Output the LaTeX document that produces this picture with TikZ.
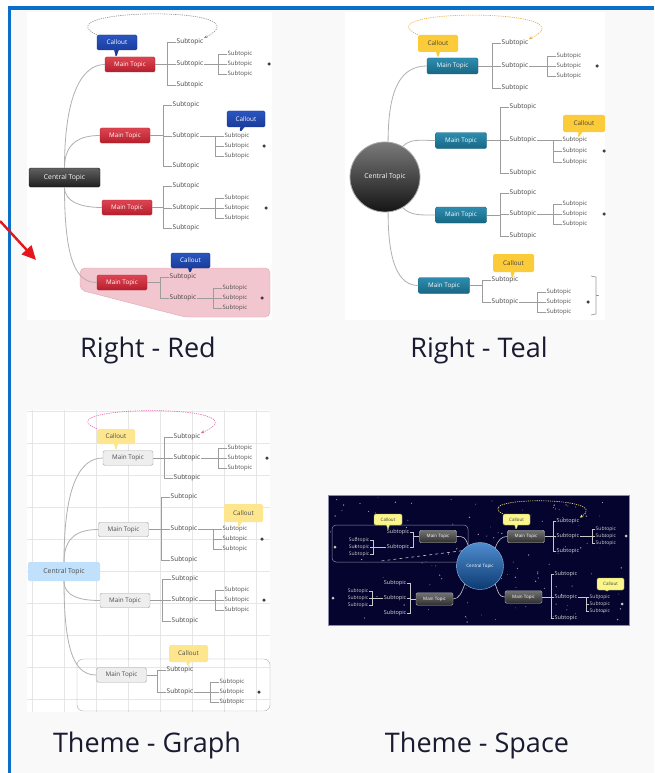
\documentclass[tikz,border=0pt]{standalone}
\usepackage{fontspec}
\setmainfont{Open Sans}
\usetikzlibrary{calc,shapes.callouts,arrows.meta}

\definecolor{frameblue}{HTML}{0A6FC8}
\definecolor{panelgray}{HTML}{F9F9F9}
\definecolor{captioncol}{HTML}{1A1A30}
\definecolor{linegray}{HTML}{9C9C9C}
\definecolor{redtop}{HTML}{DE4552}
\definecolor{redbot}{HTML}{B51F2B}
\definecolor{bluetop}{HTML}{2A55C0}
\definecolor{bluebot}{HTML}{15348F}
\definecolor{pinkfill}{HTML}{F2C6CE}
\definecolor{pinkline}{HTML}{E3A3B2}
\definecolor{tealtop}{HTML}{2E8DB0}
\definecolor{tealbot}{HTML}{176783}
\definecolor{goldfill}{HTML}{FCCB3A}
\definecolor{orangerel}{HTML}{F4A62A}
\definecolor{gridline}{HTML}{E6E6E6}
\definecolor{graybox}{HTML}{EEEEEE}
\definecolor{grayedge}{HTML}{A8A8A8}
\definecolor{paleyellow}{HTML}{FDE68E}
\definecolor{paleblue}{HTML}{C0E0FB}
\definecolor{pinkrel}{HTML}{E860A8}
\definecolor{spacebg}{HTML}{04042E}
\definecolor{spaceedge}{HTML}{8C8CAA}
\definecolor{spaceline}{HTML}{C8C8C8}
\definecolor{spaceyellow}{HTML}{FAF68C}
\definecolor{globetop}{HTML}{4F8DCF}
\definecolor{globebot}{HTML}{0C3A72}
\definecolor{arrowred}{HTML}{E4151B}

\tikzset{
  topicbox/.style={rectangle, rounded corners=1.5pt, inner sep=0pt, minimum width=50pt, minimum height=15pt, font=\fontsize{6.3}{7}\selectfont},
  subtopic/.style={inner sep=0.5pt, font=\fontsize{6.5}{7}\selectfont, text=black!75},
  detail/.style={inner sep=0.5pt, font=\fontsize{6}{6}\selectfont, text=black!70},
  branchline/.style={draw=linegray, line width=0.5pt},
  trunk/.style={draw=linegray!80, line width=0.8pt},
  plus/.style={circle, fill=black!75, inner sep=0pt, minimum size=3.5pt},
  notebox/.style={rectangle callout, rounded corners=1.5pt, inner sep=0pt, minimum width=40pt, minimum height=15pt, callout pointer width=4pt, font=\fontsize{6.3}{7}\selectfont},
  relation/.style={dash pattern=on 1.2pt off 1pt, line width=0.6pt, -{Stealth[length=3.5pt,width=3pt]}},
  caption/.style={anchor=base, text=captioncol, font=\fontsize{27}{32}\selectfont},
}

% one main topic with its subtopics; #1 = side the subtopics grow to
\def\dlist{-10,0,10}
\def\tick{9}
\newcommand{\branch}[7][east]{%
  \def\brside{#1}\def\tmpeast{east}%
  \ifx\brside\tmpeast\def\brback{west}\edef\brgap{\tick}\else\def\brback{east}\edef\brgap{-\tick}\fi
  \node[maintopic] (#2) at (#3) {Main Topic};
  \coordinate (#2b) at (#4,0);
  \draw[branchline] (#2.\brside) -- (#2.\brside -| #2b);
  \foreach \sy [count=\k] in {#5} {
    \node[subtopic, anchor=\brback] (#2s\k) at ({#4+\brgap},\sy) {Subtopic};
    \draw[branchline] (#2.\brside -| #2b) -- (#2b |- #2s\k.\brback) -- (#2s\k.\brback);
  }
  \coordinate (#2c) at (#6,0);
  \draw[branchline] (#2s2.\brside) -- (#2s2.\brside -| #2c);
  \foreach \dy [count=\k] in \dlist {
    \node[detail, anchor=\brback] (#2d\k) at ($(#2s2.\brside -| #2c)+(\brgap,\dy)$) {Subtopic};
    \draw[branchline] (#2s2.\brside -| #2c) -- (#2c |- #2d\k.\brback) -- (#2d\k.\brback);
  }
  \coordinate (#2q) at (#7,0);
  \node[plus] (#2p) at (#2q |- #2d2.\brback) {};
}

\begin{document}
\begin{tikzpicture}[x=1pt, y=-1pt]
    \useasboundingbox (0,0) rectangle (654,773);
    \fill[white] (0,0) rectangle (654,773);
    \fill[panelgray] (10,8) rectangle (654,773);
    \draw[frameblue, line width=3.5pt] (9.5,773) -- (9.5,8) -- (654,8);

    % Right - Red
    \begin{scope}[maintopic/.style={topicbox, top color=redtop, bottom color=redbot, draw=redbot, text=white},
                  note/.style={notebox, top color=bluetop, bottom color=bluebot, draw=bluebot, text=white}]
    \fill[white] (27,12) rectangle (272,320);
    \filldraw[fill=pinkfill, draw=pinkline, rounded corners=5pt] (80,268) -- (270,268) -- (270,317) -- (185,317) -- (80,290) -- cycle;
    \node[topicbox, minimum width=71pt, minimum height=19pt, top color=black!62, bottom color=black!88, draw=black!90, text=white, font=\fontsize{6.8}{7}\selectfont] (c1) at (64.5,177.5) {Central Topic};
    \branch{a1}{130,64.5}{167}{42,64,85}{218}{269}
    \def\dlist{0,10,20}
    \branch{a2}{125,135.5}{163}{105,136,166}{215}{264}
    \def\dlist{-10,0,10}
    \branch{a3}{127,207.5}{163}{186,208,228}{215}{266}
    \branch{a4}{122,282.5}{160}{277,298}{213}{262}
    \node[note, callout absolute pointer={(116,57)}] (co1) at (117,42.5) {Callout};
    \node[note, minimum width=38pt, minimum height=16pt, callout absolute pointer={(240,132)}] (co2) at (246,119) {Callout};
    \node[note, minimum width=39pt, callout absolute pointer={(190,273)}] (co3) at (190.5,260.5) {Callout};
    \draw[trunk] (c1.north) .. controls +(0,-75) and +(-22,0) .. (a1.west);
    \draw[trunk] (c1.north) .. controls +(0,-25) and +(-20,0) .. (a2.west);
    \draw[trunk] (c1.south) .. controls +(0,15) and +(-20,0) .. (a3.west);
    \draw[trunk] (c1.south) .. controls +(0,75) and +(-20,0) .. (a4.west);
    \draw[relation, draw=black!45] (co1.north west) .. controls (40,8) and (270,5) .. (a1s1.north east);
    \node[caption] (t1) at (148,357) {Right - Red};
    \end{scope}

    % Right - Teal
    \begin{scope}[maintopic/.style={topicbox, minimum width=51pt, minimum height=16pt, top color=tealtop, bottom color=tealbot, draw=tealbot, text=white},
                  note/.style={notebox, fill=goldfill, text=black!75}]
    \fill[white] (345,12) rectangle (605,320);
    \node[circle, minimum size=70pt, inner sep=0pt, draw=black!35, line width=0.8pt, top color=black!52, bottom color=black!92, text=white, font=\fontsize{6.8}{7}\selectfont] (c2) at (385,177) {Central Topic};
    \branch{b1}{452.5,66}{492}{43,66,88}{547}{597}
    \def\dlist{0,11,22}
    \branch{b2}{461,140.5}{500}{107,140,173}{553}{604}
    \def\dlist{-10,0,10}
    \branch{b3}{461,215}{500}{193,214,236}{553}{604}
    \branch{b4}{444,285.5}{482}{280,302}{537}{588}
    \node[note, minimum height=17pt, callout absolute pointer={(438,58)}] (co5) at (438,43.5) {Callout};
    \node[note, minimum width=42pt, minimum height=17pt, callout absolute pointer={(578,138)}] (co6) at (584,123.5) {Callout};
    \node[note, minimum width=41pt, minimum height=18pt, callout absolute pointer={(512,279)}] (co7) at (513.5,263) {Callout};
    \draw[trunk] (c2.85) .. controls +(0,-55) and +(-25,0) .. (b1.west);
    \draw[trunk] (c2.60) .. controls +(8,-8) and +(-15,0) .. (b2.west);
    \draw[trunk] (c2.-60) .. controls +(8,8) and +(-15,0) .. (b3.west);
    \draw[trunk] (c2.-85) .. controls +(0,50) and +(-20,0) .. (b4.west);
    \draw[relation, draw=orangerel] (co5.north west) .. controls (360,8) and (595,8) .. (b1s1.north east);
    \draw[draw=black!40, line width=0.6pt] (591,276) -- (596,277) -- (596,314) -- (591,315);
    \draw[draw=black!40, line width=0.6pt] (596,295.5) -- (599,295.5);
    \node[caption] (t2) at (479,357) {Right - Teal};
    \end{scope}

    % Theme - Graph
    \begin{scope}[maintopic/.style={topicbox, minimum height=14.5pt, fill=graybox, draw=grayedge, text=black!70},
                  note/.style={notebox, fill=paleyellow, text=black!70}]
    \fill[white] (27,410) rectangle (270,712);
    \foreach \gx in {32,64,...,256}
        \draw[gridline] (\gx,410) -- (\gx,712);
    \foreach \gy in {411,443,...,699}
        \draw[gridline] (27,\gy) -- (270,\gy);
    \draw[grayedge, rounded corners=6pt] (77,659) rectangle (270,711);
    \node[topicbox, minimum width=72pt, minimum height=19pt, fill=paleblue, text=black!70, font=\fontsize{6.8}{7}\selectfont] (c3) at (64,571.5) {Central Topic};
    \branch{g1}{128,458}{164}{437,458,478}{218}{267}
    \def\dlist{0,10,20}
    \branch{g2}{123.5,529.5}{161}{497,529,560}{213}{262}
    \def\dlist{-10,0,10}
    \branch{g3}{125,600.5}{162}{579,600,621}{215}{264}
    \branch{g4}{121.5,675}{157}{670,692}{210}{259}
    \node[note, minimum width=38pt, callout absolute pointer={(116,451)}] (co8) at (116,436.5) {Callout};
    \node[note, minimum width=39pt, minimum height=18pt, callout absolute pointer={(238,528)}] (co9) at (243.5,513) {Callout};
    \node[note, minimum width=39pt, minimum height=17pt, callout absolute pointer={(188,667)}] (co10) at (188.5,653.5) {Callout};
    \draw[trunk] (c3.north) .. controls +(0,-78) and +(-22,0) .. (g1.west);
    \draw[trunk] (c3.north) .. controls +(0,-25) and +(-20,0) .. (g2.west);
    \draw[trunk] (c3.south) .. controls +(0,15) and +(-20,0) .. (g3.west);
    \draw[trunk] (c3.south) .. controls +(0,75) and +(-20,0) .. (g4.west);
    \draw[relation, draw=pinkrel] (co8.north west) .. controls (40,405) and (270,403) .. (g1s1.north east);
    \node[caption] (t3) at (147,752) {Theme - Graph};
    \end{scope}

    % Theme - Space
    \begin{scope}[maintopic/.style={topicbox, minimum width=37pt, minimum height=12.5pt, top color=black!55, bottom color=black!82, draw=black!30, text=white, font=\fontsize{4.5}{5}\selectfont},
                  note/.style={notebox, minimum width=28pt, minimum height=11pt, callout pointer width=3pt, fill=spaceyellow, draw=spaceyellow!70!black, text=black!75, font=\fontsize{4.5}{5}\selectfont},
                  subtopic/.style={inner sep=0.5pt, font=\fontsize{5.5}{6}\selectfont, text=white!85!black},
                  detail/.style={inner sep=0.5pt, font=\fontsize{5}{5}\selectfont, text=white!80!black},
                  branchline/.style={draw=spaceline, line width=0.6pt},
                  plus/.style={circle, fill=white!80!black, inner sep=0pt, minimum size=3pt}]
    \filldraw[fill=spacebg, draw=spaceedge, line width=0.6pt] (328,495) rectangle (629,625);
    \pgfmathsetseed{3}
    \foreach \i in {1,...,110} {
        \pgfmathsetmacro{\sx}{330+297*rnd}
        \pgfmathsetmacro{\sy}{497+126*rnd}
        \pgfmathsetmacro{\sr}{0.3+0.5*rnd}
        \fill[white, opacity=0.6] (\sx,\sy) circle (\sr);
    }
    \draw[spaceedge, rounded corners=4pt, line width=0.5pt] (332,525) rectangle (468,562);
    \node[circle, minimum size=47pt, inner sep=0pt, top color=globetop, bottom color=globebot, draw=globetop!60!white, text=white, font=\fontsize{4.5}{5}\selectfont] (c4) at (480,566) {Central Topic};
    \def\dlist{-7,0,7}
    \def\tick{3}
    \branch[west]{sp1}{438,536.5}{413}{532,547}{373}{335}
    \branch[west]{sp2}{434.5,599}{410}{583,598,613}{372}{333}
    \branch{sp3}{526,536.5}{553}{521,536,551}{592}{626}
    \def\dlist{0,7,14}
    \branch{sp4}{523.5,597}{551}{574,597,618}{586}{622}
    \node[note, callout absolute pointer={(388,530)}] (sc1) at (388,519.5) {Callout};
    \node[note, minimum width=27pt, callout absolute pointer={(516,530)}] (sc2) at (516.5,519.5) {Callout};
    \node[note, minimum width=27pt, minimum height=12pt, callout absolute pointer={(606,592)}] (sc3) at (610.5,584) {Callout};
    \draw[branchline] (c4.120) .. controls +(-3,-8) and +(8,0) .. (sp1.east);
    \draw[branchline] (c4.-130) .. controls +(-3,8) and +(6,0) .. (sp2.east);
    \draw[branchline] (c4.50) .. controls +(3,-8) and +(-6,0) .. (sp3.west);
    \draw[branchline] (c4.-50) .. controls +(3,8) and +(-6,0) .. (sp4.west);
    \coordinate (sprel) at (381,561);
    \draw[spaceline, dashed, line width=0.6pt] (c4.140) -- (sprel);
    \draw[relation, draw=spaceyellow!85!orange] (sc2.north west) .. controls (469,496) and (614,496) .. (sp3s1.north east);
    \node[caption] (t4) at (477,752) {Theme - Space};
    \end{scope}

    \coordinate (arrowtail) at (0,221);
    \coordinate (arrowtip) at (36,260);
    \draw[arrowred, line width=2.4pt, -{Triangle[length=14pt,width=13pt]}] (arrowtail) -- (arrowtip);
\end{tikzpicture}
\end{document}
